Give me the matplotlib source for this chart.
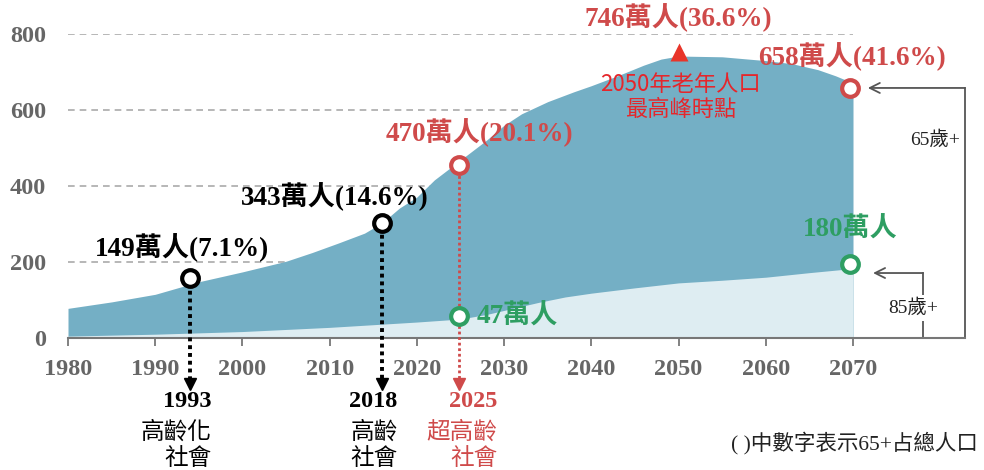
import matplotlib
matplotlib.use("Agg")
import matplotlib.pyplot as plt

# ---- data ----
years_65 = [1980, 1985, 1990, 1995, 2000, 2005, 2008, 2011, 2014, 2016, 2018, 2020,
            2022, 2024, 2026, 2028, 2030, 2032, 2035, 2038, 2040, 2043, 2046, 2048,
            2050, 2055, 2060, 2063, 2066, 2068, 2070]
pop_65 = [78, 95, 115, 148, 174, 202, 225, 250, 276, 303, 342, 371,
          416, 451, 486, 521, 560, 590, 622, 648, 664, 690, 718, 734,
          742, 740, 730, 722, 706, 690, 671]

years_85 = [1980, 1990, 2000, 2010, 2015, 2020, 2025, 2028, 2031, 2034, 2037, 2040,
            2045, 2050, 2055, 2060, 2065, 2070]
pop_85 = [5, 10, 17, 28, 35, 42, 50, 62, 78, 94, 108, 118, 132, 145, 152, 160, 172, 183]

xticks = [1980, 1990, 2000, 2010, 2020, 2030, 2040, 2050, 2060, 2070]
yticks = [0, 200, 400, 600, 800]

# milestone markers (year position, value position, label)
ms_x = [1994, 2016, 2024.8]
ms_y = [158, 303, 455]
ms_labels = ["149萬人(7.1%)", "343萬人(14.6%)", "470萬人(20.1%)"]
ms_years = ["1993", "2018", "2025"]
ms_desc1 = ["高齡化", "高齡", "超高齡"]
ms_desc2 = ["社會", "社會", "社會"]

peak_year, peak_val, peak_label = 2050, 752, "746萬人(36.6%)"
end65_year, end65_val, end65_label = 2069.7, 658, "658萬人(41.6%)"
mid85_year, mid85_val, mid85_label = 2024.8, 58, "47萬人"
end85_year, end85_val, end85_label = 2069.7, 195, "180萬人"

# ---- styling ----
TEAL = "#74afc5"
LIGHT = "#deedf2"
RED = "#cf4a4a"
BRIGHT_RED = "#e5262b"
GREEN = "#2e9e62"
GRAY = "#666666"
SERIF = ["Liberation Serif", "Noto Sans CJK TC"]
CJK = ["Noto Sans CJK TC", "DejaVu Sans"]
VAL_FS = 19.5

fig = plt.figure(figsize=(9.84, 4.70), dpi=100)
W, H = 984, 470
ax = fig.add_axes([68 / W, (H - 338) / H, (965 - 68) / W, (338 - 34) / H])
px_per_year = (853 - 68) / 90
ax.set_xlim(1980, 1980 + (965 - 68) / px_per_year)
ax.set_ylim(0, 800)

# grid
ax.hlines([200, 400, 600, 800], 1980, 2070, colors="#aaaaaa",
          linestyles=(0, (4, 3)), lw=1.2, zorder=0)

# areas
ax.fill_between(years_65, 0, pop_65, color=TEAL, lw=0, zorder=1)
ax.fill_between(years_85, 0, pop_85, color=LIGHT, lw=0, zorder=2)

# axes styling
for s in ["top", "right", "left"]:
    ax.spines[s].set_visible(False)
ax.spines["bottom"].set_color("#777777")
ax.spines["bottom"].set_linewidth(1.5)
ax.spines["bottom"].set_zorder(3)
ax.set_xticks(xticks)
ax.set_yticks(yticks)
ax.tick_params(axis="x", length=6, width=1.3, color="#777777", pad=9,
               labelsize=17.5, labelcolor=GRAY)
ax.tick_params(axis="y", length=0, pad=16, labelsize=17.5, labelcolor=GRAY)
for lab in ax.get_xticklabels() + ax.get_yticklabels():
    lab.set_fontfamily("Liberation Serif")
    lab.set_fontweight("bold")

# milestone markers, dotted arrows, labels
ms_colors = ["black", "black", RED]
ms_lw = [2.8, 2.8, 2.0]
label_pos = [(1993.1, 237), (2010.6, 371), (2027.2, 539)]
bottom_right = [1996.5, 2017.8, 2029.2]
for i in range(3):
    c = ms_colors[i]
    ax.plot([ms_x[i], ms_x[i]], [ms_y[i] - 12, -112], ls=(0, (1, 1)),
            lw=ms_lw[i], color=c, clip_on=False, zorder=4)
    ax.plot(ms_x[i], -120, marker="v", ms=8, color=c, clip_on=False, zorder=4)
    ax.plot(ms_x[i], ms_y[i], "o", ms=12, mfc="white", mec=c, mew=3, zorder=5)
    ax.text(label_pos[i][0], label_pos[i][1], ms_labels[i], ha="center", va="center",
            fontsize=VAL_FS, fontweight="bold", family=SERIF, color=c, zorder=6)
    ax.text(bottom_right[i], -168, ms_years[i], ha="right", va="center", fontsize=17.5,
            fontweight="bold", family=SERIF, color=c, clip_on=False)
    ax.text(bottom_right[i], -247, ms_desc1[i], ha="right", va="center", fontsize=17,
            family=CJK, color=c, clip_on=False)
    ax.text(bottom_right[i], -316, ms_desc2[i], ha="right", va="center", fontsize=17,
            family=CJK, color=c, clip_on=False)

# peak
ax.plot(peak_year, peak_val, marker="^", ms=13, color="#e8352a", mec="none",
        zorder=6, clip_on=False)
ax.text(peak_year, 842, peak_label, ha="center", va="center", fontsize=VAL_FS,
        fontweight="bold", family=SERIF, color=RED, clip_on=False)
ax.text(2050.2, 666, "2050年老年人口", ha="center", va="center", fontsize=16,
        family=CJK, color=BRIGHT_RED, zorder=6)
ax.text(2050.2, 600, "最高峰時點", ha="center", va="center", fontsize=16,
        family=CJK, color=BRIGHT_RED, zorder=6)

# end 65+
ax.plot(end65_year, end65_val, "o", ms=12, mfc="white", mec=RED, mew=3, zorder=6,
        clip_on=False)
ax.text(2069.9, 739, end65_label, ha="center", va="center", fontsize=VAL_FS,
        fontweight="bold", family=SERIF, color=RED, zorder=6)

# 85+ markers
ax.plot(mid85_year, mid85_val, "o", ms=12, mfc="white", mec=GREEN, mew=3, zorder=6)
ax.text(2026.9, 55, mid85_label, ha="left", va="center", fontsize=VAL_FS,
        fontweight="bold", family=SERIF, color=GREEN, zorder=6)
ax.plot(end85_year, end85_val, "o", ms=12, mfc="white", mec=GREEN, mew=3, zorder=6,
        clip_on=False)
ax.text(2069.7, 284, end85_label, ha="center", va="center", fontsize=VAL_FS,
        fontweight="bold", family=SERIF, color=GREEN, zorder=6)

# brackets
xr65 = 1980 + (965 - 68) / px_per_year
xr85 = 1980 + (923 - 68) / px_per_year
ax.plot([xr65, xr65], [end65_val, 0], color="#555555", lw=1.3, clip_on=False)
ax.annotate("", xy=(2071.7, end65_val), xytext=(xr65, end65_val),
            arrowprops=dict(arrowstyle="->", color="#555555", lw=1.3,
                            mutation_scale=18, shrinkA=0, shrinkB=0),
            annotation_clip=False)
ax.plot([xr85, xr85], [171, 0], color="#555555", lw=1.3, clip_on=False)
ax.annotate("", xy=(2072.3, 171), xytext=(xr85, 171),
            arrowprops=dict(arrowstyle="->", color="#555555", lw=1.3,
                            mutation_scale=18, shrinkA=0, shrinkB=0),
            annotation_clip=False)
ax.text(2079.4, 521, "65歲+", ha="center", va="center", fontsize=14,
        family=SERIF, color="#222222", zorder=7,
        bbox=dict(facecolor="white", edgecolor="none", pad=3))
ax.text(2076.9, 79, "85歲+", ha="center", va="center", fontsize=14,
        family=SERIF, color="#222222", zorder=7,
        bbox=dict(facecolor="white", edgecolor="none", pad=3))

# footnote
fig.text(978 / W, 1 - 443 / H, "( )中數字表示65+占總人口", ha="right", va="center",
         fontsize=15.5, family=SERIF, color="#222222")

fig.savefig("out.png", dpi=100)
